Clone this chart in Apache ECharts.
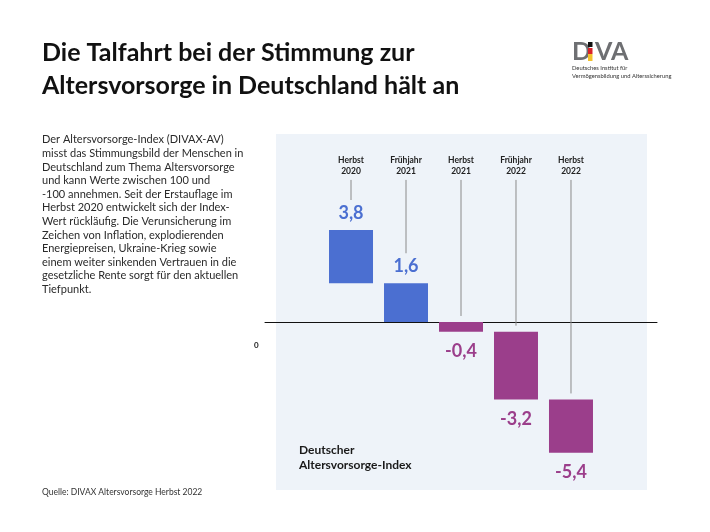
<!DOCTYPE html>
<html>
<head>
<meta charset="utf-8">
<script src="https://cdn.jsdelivr.net/npm/echarts@6/dist/echarts.min.js"></script>
<style>
  html, body { margin: 0; padding: 0; background: #fff; }
  #chart { width: 710px; height: 532px; }
</style>
</head>
<body>
<div id="chart"></div>
<script>
// Stimmungsindex Altersvorsorge
var categories = ['Herbst\n2020', 'Frühjahr\n2021', 'Herbst\n2021', 'Frühjahr\n2022', 'Herbst\n2022'];
var values = [3.8, 1.6, -0.4, -3.2, -5.4];
var valueLabels = ['3,8', '1,6', '-0,4', '-3,2', '-5,4'];

var blue = '#4b6fd1';
var purple = '#9b3e8b';
var headerTop = 5.87; // wo die Hilfslinien oben anfangen

// Balken laufen vom Nachbarwert (bzw. 0) bis zum eigenen Wert
var barData = values.map(function (v, i) {
    var lo;
    if (v > 0) {
        lo = Math.max(i + 1 < values.length ? values[i + 1] : 0, 0);
    } else {
        lo = Math.min(i > 0 ? values[i - 1] : 0, 0);
    }
    return [i, lo, v];
});

var chart = echarts.init(document.getElementById('chart'));

chart.setOption({
    animation: false,
    textStyle: { fontFamily: 'Lato' },
    grid: { left: 265, right: 53, top: 133.2, height: 358.2 },
    xAxis: {
        type: 'value',
        min: 2 - 3.564,
        max: 2 + 3.564,
        axisLine: { show: true, onZero: true, lineStyle: { color: '#111', width: 1 } },
        axisTick: { show: false },
        axisLabel: { show: false },
        splitLine: { show: false }
    },
    yAxis: {
        type: 'value',
        min: -7,
        max: 7.8,
        show: false,
        splitLine: { show: false }
    },
    graphic: [
        { type: 'rect', z: -1, shape: { x: 276, y: 134, width: 371, height: 356 }, style: { fill: '#eef3f9' } },
        { type: 'text', left: 42, top: 36, style: { text: 'Die Talfahrt bei der Stimmung zur\nAltersvorsorge in Deutschland hält an', fontFamily: 'Lato', fontWeight: 'bold', fontSize: 25, fill: '#111', lineHeight: 33 } },
        { type: 'text', left: 42, top: 133, style: {
            text: 'Der Altersvorsorge-Index (DIVAX-AV)\nmisst das Stimmungsbild der Menschen in\nDeutschland zum Thema Altersvorsorge\nund kann Werte zwischen 100 und\n-100 annehmen. Seit der Erstauflage im\nHerbst 2020 entwickelt sich der Index-\nWert rückläufig. Die Verunsicherung im\nZeichen von Inflation, explodierenden\nEnergiepreisen, Ukraine-Krieg sowie\neinem weiter sinkenden Vertrauen in die\ngesetzliche Rente sorgt für den aktuellen\nTiefpunkt.',
            fontFamily: 'Lato', fontSize: 11, fill: '#2a2a2a', lineHeight: 13.6 } },
        { type: 'text', left: 42, top: 488, style: { text: 'Quelle: DIVAX Altersvorsorge Herbst 2022', fontFamily: 'Lato', fontSize: 8.5, fill: '#333' } },
        { type: 'text', left: 254, top: 341, style: { text: '0', fontFamily: 'Lato', fontWeight: 'bold', fontSize: 8, fill: '#222' } },
        { type: 'text', left: 299, top: 443, style: { text: 'Deutscher\nAltersvorsorge-Index', fontFamily: 'Lato', fontWeight: 'bold', fontSize: 12, fill: '#1a1a1a', lineHeight: 15 } },
        // Logo
        { type: 'text', left: 572, top: 39, style: { text: 'D', fontFamily: 'Lato', fontWeight: 'bold', fontSize: 25, fill: '#6e6f72' } },
        { type: 'rect', shape: { x: 588, y: 42, width: 4.5, height: 5 }, style: { fill: '#111' } },
        { type: 'rect', shape: { x: 588, y: 48, width: 4.5, height: 6 }, style: { fill: '#d9232a' } },
        { type: 'rect', shape: { x: 588, y: 54, width: 4.5, height: 7 }, style: { fill: '#f2c12e' } },
        { type: 'text', left: 595, top: 39, style: { text: 'VA', fontFamily: 'Lato', fontWeight: 'bold', fontSize: 25, fill: '#6e6f72' } },
        { type: 'text', left: 572, top: 64, style: { text: 'Deutsches Institut für\nVermögensbildung und Alterssicherung', fontFamily: 'Lato', fontSize: 5.8, fill: '#333', lineHeight: 8 } }
    ],
    series: [
        {
            name: 'Hilfslinien',
            type: 'custom',
            z: 1,
            data: barData,
            renderItem: function (params, api) {
                var i = api.value(0);
                var upper = Math.max(api.value(1), api.value(2));
                var start = api.coord([i, headerTop]);
                var top = api.coord([i, upper]);
                var endY = values[params.dataIndex] > 0 ? top[1] - 30 : top[1] - 6;
                return {
                    type: 'group',
                    children: [
                        { type: 'line', shape: { x1: start[0], y1: start[1], x2: start[0], y2: endY }, style: { stroke: '#8a8a8a', lineWidth: 1 } },
                        { type: 'text', style: { text: categories[params.dataIndex], x: start[0], y: start[1] - 3, align: 'center', verticalAlign: 'bottom', fontFamily: 'Lato', fontWeight: 'bold', fontSize: 8.5, fill: '#222', lineHeight: 11 } }
                    ]
                };
            }
        },
        {
            name: 'DIVAX-AV',
            type: 'custom',
            z: 3,
            data: barData,
            renderItem: function (params, api) {
                var i = api.value(0);
                var a = api.coord([i, api.value(1)]);
                var b = api.coord([i, api.value(2)]);
                var w = api.size([0.8, 0])[0];
                var v = values[params.dataIndex];
                var y0 = Math.min(a[1], b[1]);
                var y1 = Math.max(a[1], b[1]);
                var color = v > 0 ? blue : purple;
                return {
                    type: 'group',
                    children: [
                        { type: 'rect', shape: { x: a[0] - w / 2, y: y0, width: w, height: y1 - y0 }, style: { fill: color } },
                        { type: 'text', style: { text: valueLabels[params.dataIndex], x: a[0], y: v > 0 ? y0 - 17 : y1 + 20, align: 'center', verticalAlign: 'middle', fontFamily: 'Lato', fontWeight: 'bold', fontSize: 18, fill: color } }
                    ]
                };
            }
        }
    ]
});
</script>
</body>
</html>
